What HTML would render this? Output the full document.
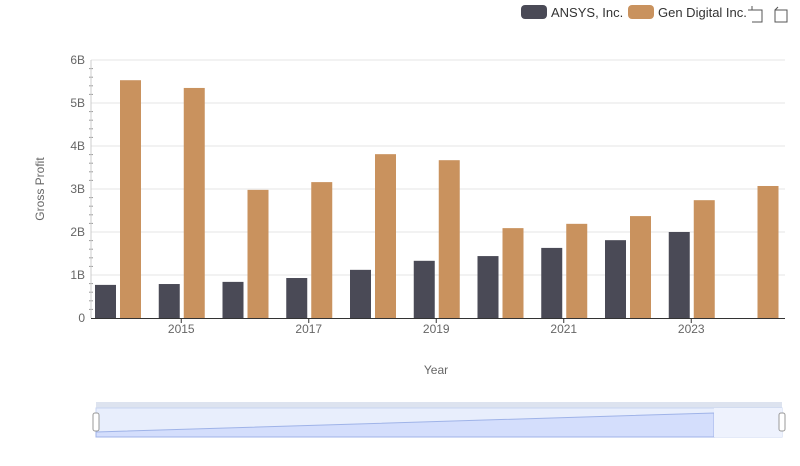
<!DOCTYPE html>
<html><head><meta charset="utf-8"><style>
body{margin:0;background:#fff;font-family:"Liberation Sans",sans-serif}
svg text{font-family:"Liberation Sans",sans-serif}
</style></head><body>
<svg id="c" width="800" height="461">
<g>
<rect x="521" y="5" width="26" height="14" rx="4" fill="#4a4a56"/>
<text x="551" y="17" font-size="13" fill="#333">ANSYS, Inc.</text>
<rect x="628" y="5" width="26" height="14" rx="4" fill="#c9925e"/>
<text x="658" y="17" font-size="13" fill="#333">Gen Digital Inc.</text>
<g stroke="#555" fill="none"><path d="M748 10h14v12h-10M752 6v4"/></g>
<g stroke="#555" fill="none"><path d="M775 10h12v12h-12zM775 10l3-3"/></g>
</g>
<g id="grid"></g>
<g id="bars"></g>
<g id="axes"></g>
<text x="44" y="189" font-size="12" fill="#666" transform="rotate(-90 44 189)" text-anchor="middle">Gross Profit</text>
<text x="436" y="374" font-size="12" fill="#666" text-anchor="middle">Year</text>
<g>
<rect x="96" y="402" width="686" height="6" fill="#dde3ef"/>
<rect x="96" y="408" width="686" height="29" fill="#e8eefc" stroke="#c8d4f0"/>
<path d="M96 432 L714 413 L714 437 L96 437Z" fill="#d4defc" stroke="#9fb3e8"/>
<rect x="714" y="408" width="68" height="29" fill="#eef2fd"/>
<rect x="93" y="413" width="6" height="18" rx="2" fill="#fff" stroke="#999"/>
<rect x="779" y="413" width="6" height="18" rx="2" fill="#fff" stroke="#999"/>
</g>
</svg>
<script>
const years=[2014,2015,2016,2017,2018,2019,2020,2021,2022,2023,2024];
const ansys=[0.77,0.79,0.84,0.93,1.12,1.33,1.44,1.63,1.81,2.0,null];
const gen=[5.53,5.35,2.98,3.16,3.81,3.67,2.09,2.19,2.37,2.74,3.07];
const yTicks=[0,1,2,3,4,5,6];
const yTickLabels=["0","1B","2B","3B","4B","5B","6B"];
const xTickYears=[2015,2017,2019,2021,2023];
const NS="http://www.w3.org/2000/svg";
const y=v=>318-v*43;
const x=yr=>117.5+(yr-2014)*63.75;
function mk(p,t,a){const e=document.createElementNS(NS,t);for(const k in a)e.setAttribute(k,a[k]);document.getElementById(p).appendChild(e);return e;}
yTicks.forEach((v,i)=>{
 if(v>0){const g=mk('grid','line',{x1:91,x2:785,y1:y(v),y2:y(v),stroke:'#e6e6e6'});
 
 }
 const t=mk('axes','text',{x:85,y:y(v)+4,'font-size':12,fill:'#666','text-anchor':'end'});t.textContent=yTickLabels[i];
 
 
 if(i<yTicks.length-1)for(let k=1;k<5;k++){const m=mk('axes','line',{x1:89,x2:93,y1:y(v+k*0.2),y2:y(v+k*0.2),stroke:'#999'});
 
 }
});
const ax=mk('axes','line',{x1:91,x2:785,y1:318.5,y2:318.5,stroke:'#333'});


const ay=mk('axes','line',{x1:91,x2:91,y1:60,y2:318,stroke:'#ccc'});


xTickYears.forEach(yr=>{const t=mk('axes','text',{x:x(yr),y:333,'font-size':12,fill:'#666','text-anchor':'middle'});t.textContent=yr;
 
 
 const l=mk('axes','line',{x1:x(yr),x2:x(yr),y1:318,y2:323,stroke:'#333'});
 
 });
years.forEach((yr,i)=>{
 if(ansys[i]!=null){const b=mk('bars','rect',{x:x(yr)-22.5,y:y(ansys[i]),width:21,height:318-y(ansys[i]),fill:'#4a4a56'});
 
 }
 const g=mk('bars','rect',{x:x(yr)+2.5,y:y(gen[i]),width:21,height:318-y(gen[i]),fill:'#c9925e'});
 
 
});
</script>
</body></html>
